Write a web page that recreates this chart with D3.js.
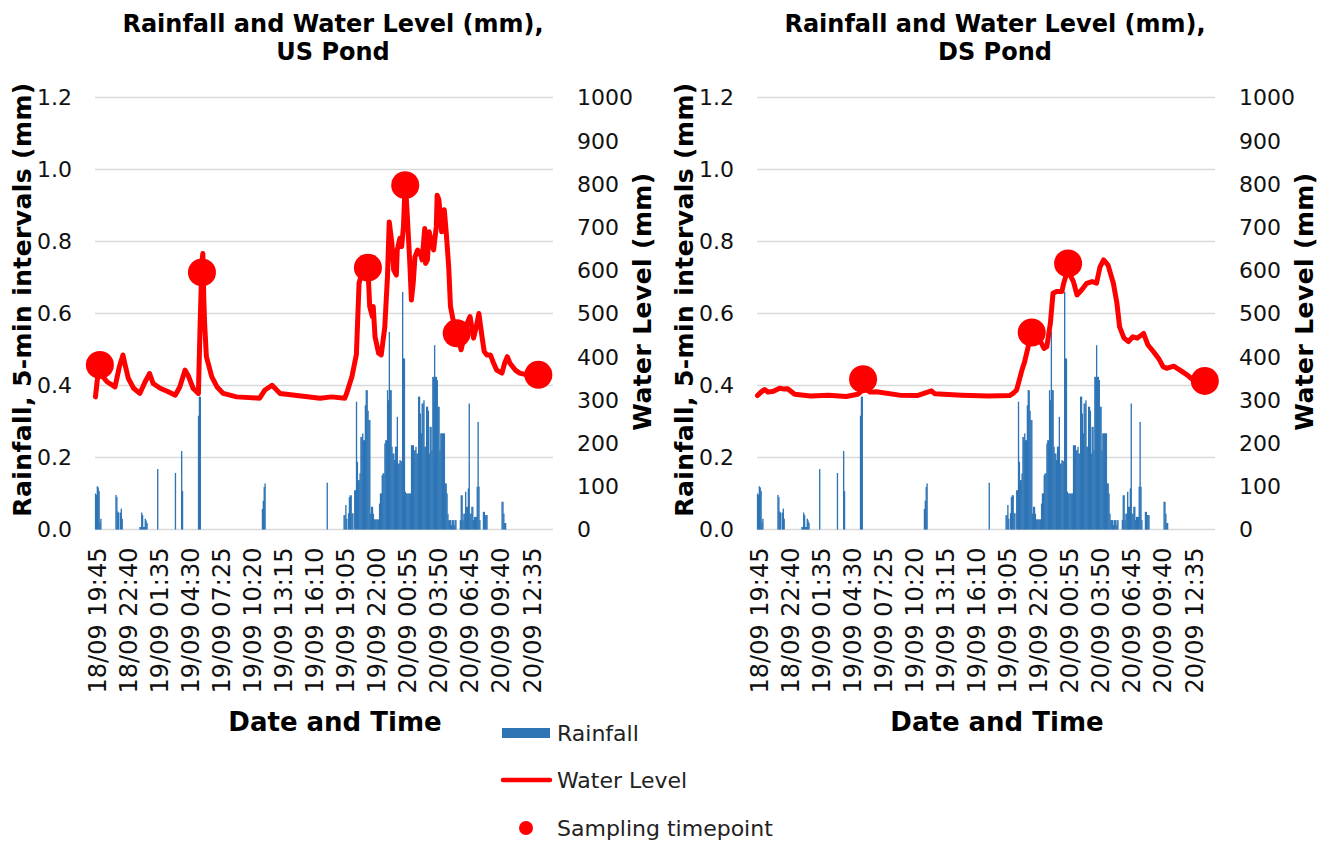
<!DOCTYPE html>
<html>
<head>
<meta charset="utf-8">
<script src="https://cdnjs.cloudflare.com/ajax/libs/d3/7.8.5/d3.min.js"></script>
<style>
    body { margin: 0; background: #fff; }
    svg { font-family: "DejaVu Sans", Verdana, sans-serif; }
    .tick-label { font-size: 22px; fill: #111; }
    .x-label { font-size: 24px; fill: #111; }
    .axis-title { font-size: 25px; font-weight: bold; fill: #000; letter-spacing: 0.4px; }
    .x-title { font-size: 26px; font-weight: bold; fill: #000; }
    .title { font-size: 24px; font-weight: bold; fill: #000; }
    .legend-label { font-size: 22px; fill: #222; }
</style>
</head>
<body>
<svg width="1330" height="841"></svg>
<script>
// 5-minute slots from 18/09 19:45, one label every 35 slots
const slotCount = 516;
const labelEvery = 35;
const tickLabels = ['18/09 19:45', '18/09 22:40', '19/09 01:35', '19/09 04:30', '19/09 07:25',
    '19/09 10:20', '19/09 13:15', '19/09 16:10', '19/09 19:05', '19/09 22:00',
    '20/09 00:55', '20/09 03:50', '20/09 06:45', '20/09 09:40', '20/09 12:35'];
const rainTicks = [0, 0.2, 0.4, 0.6, 0.8, 1.0, 1.2];
const levelTicks = [0, 100, 200, 300, 400, 500, 600, 700, 800, 900, 1000];

// rainfall (mm) per slot: [first slot, values...]; slots not listed had no rain
const rainfallRuns = [
    [0, [0.1, 0.096, 0.12, 0.117, 0.107, 0.02, 0.03]],
    [23, [0.096, 0.09, 0.05, 0.047, 0, 0.047, 0.058, 0.03]],
    [50, [0.007, 0.007, 0.047, 0.04, 0.007, 0.007, 0.03, 0.025, 0.018]],
    [70, [0.168]],
    [90, [0.157]],
    [97, [0.218, 0.107]],
    [116, [0.316, 0.369, 0.369]],
    [188, [0.057, 0.08, 0.118, 0.128]],
    [261, [0.13]],
    [280, [0.04, 0.04, 0.068, 0.03, 0, 0.045, 0.09, 0.095, 0.095, 0.045,
        0.045, 0, 0.109, 0.109, 0.355, 0.188, 0.137, 0.137, 0.156, 0.257,
        0.257, 0.267, 0.248, 0.248, 0.345, 0.387, 0.387, 0.33, 0.304, 0.304,
        0.044, 0.063, 0.063, 0.044, 0.028, 0.028, 0.028, 0.028, 0.028, 0.028,
        0.072, 0.1, 0.1, 0.151, 0.156, 0.156, 0.239, 0.248, 0.248, 0.387,
        0.359, 0.549, 0.387, 0.387, 0.23, 0.211, 0.211, 0.193, 0.23, 0.23,
        0.313, 0.183, 0.183, 0.193, 0.19, 0.19, 0.66, 0.475, 0.475, 0.105,
        0.1, 0.1, 0.1, 0.1, 0.1, 0.1, 0.234, 0.234, 0.234, 0.22,
        0.22, 0.23, 0.211, 0.211, 0.369, 0.369, 0.322, 0.267, 0.35, 0.35,
        0.359, 0.23, 0.23, 0.341, 0.341, 0.33, 0.211, 0.285, 0.285, 0.22,
        0.424, 0.424, 0.512, 0.424, 0.424, 0.415, 0.341, 0.341, 0.22, 0.267,
        0.267, 0.267, 0.267, 0.267, 0.128, 0.128, 0.1, 0.044, 0.026, 0.026,
        0.026, 0.012, 0.026, 0.026, 0.012, 0.026, 0.026, 0, 0, 0,
        0, 0.026, 0.095, 0.095, 0.026, 0.044, 0.044, 0.105, 0.063, 0.063,
        0.114, 0.35, 0.044, 0.044, 0.063, 0.063, 0.026, 0.035, 0.035, 0.035,
        0.119, 0.299, 0.119, 0.026, 0, 0, 0, 0.049, 0.049, 0.04,
        0.04, 0.04]],
    [458, [0.077, 0.077, 0.044, 0.018, 0.018]]
];

// water level (mm): [slot, level]
const levelUS = [[0, 307], [2, 345], [5, 378], [9, 352], [13, 342], [22, 330], [27, 377], [31, 404],
    [33, 385], [37, 350], [43, 327], [50, 315], [56, 342], [61, 361], [65, 338], [73, 327],
    [82, 319], [90, 311], [95, 330], [101, 369], [105, 354], [110, 327], [116, 315], [118, 480],
    [120, 620], [121, 639], [122, 540], [123, 477], [125, 400], [131, 354], [137, 330], [144, 315],
    [159, 307], [185, 304], [191, 323], [199, 334], [208, 315], [253, 304], [266, 307], [281, 304],
    [283, 315], [289, 354], [292, 385], [294, 405], [297, 570], [300, 593], [303, 600], [307, 606],
    [309, 516], [312, 493], [313, 516], [315, 446], [319, 408], [322, 404], [326, 469], [329, 585],
    [331, 712], [334, 662], [336, 601], [339, 589], [340, 647], [343, 674], [345, 655], [347, 700],
    [349, 805], [351, 740], [354, 624], [356, 531], [358, 570], [360, 631], [363, 647], [366, 639],
    [368, 624], [369, 647], [371, 697], [372, 616], [374, 624], [376, 689], [379, 659], [381, 647],
    [384, 701], [385, 774], [387, 763], [390, 689], [393, 740], [395, 693], [398, 608], [400, 516],
    [403, 485], [407, 454], [412, 416], [418, 473], [422, 493], [426, 443], [429, 469], [432, 500],
    [435, 454], [438, 412], [441, 404], [445, 404], [448, 388], [452, 369], [458, 362], [461, 385],
    [464, 400], [467, 385], [473, 369], [478, 362], [486, 358], [499, 358], [505, 350]];

const levelDS = [[0, 310], [4, 318], [8, 324], [12, 318], [18, 320], [25, 327], [30, 325], [34, 326],
    [42, 313], [60, 309], [80, 311], [100, 308], [113, 313], [116, 318], [119, 345], [122, 325],
    [127, 318], [134, 319], [160, 311], [180, 310], [196, 321], [200, 314], [230, 311], [260, 309],
    [284, 310], [288, 315], [292, 323], [295, 346], [298, 369], [301, 388], [305, 423], [309, 456],
    [313, 450], [318, 439], [323, 419], [326, 423], [330, 477], [333, 547], [337, 551], [343, 551],
    [345, 570], [348, 590], [350, 612], [352, 590], [356, 574], [360, 543], [365, 554], [371, 570],
    [377, 574], [382, 570], [386, 608], [390, 624], [395, 612], [401, 570], [405, 524], [408, 469],
    [413, 443], [418, 435], [423, 446], [428, 443], [435, 454], [440, 427], [446, 412], [452, 396],
    [457, 377], [461, 373], [469, 378], [476, 369], [484, 358], [491, 346], [504, 344]];

// sampling timepoints: [slot, level]
const samplesUS = [[5, 381], [120, 595], [307, 606], [349, 797], [407, 454], [499, 358]];
const samplesDS = [[119, 348], [309, 456], [350, 616], [504, 344]];

const blue = '#2e75b6';
const red = '#ff0000';

const rainfall = new Array(slotCount).fill(0);
rainfallRuns.forEach(([start, values]) => values.forEach((v, i) => { rainfall[start + i] = v; }));

const svg = d3.select('svg');
const plot = { top: 97.5, width: 458, height: 432 };

const xScale = d3.scaleBand().domain(d3.range(slotCount)).range([0, plot.width]);
const yRain = d3.scaleLinear().domain([0, 1.2]).range([plot.height, 0]);
const yLevel = d3.scaleLinear().domain([0, 1000]).range([plot.height, 0]);
const bw = xScale.bandwidth();

const drawPanel = (left, title, level, samples) => {
    const g = svg.append('g').attr('transform', `translate(${left},${plot.top})`);

    // gridlines
    g.selectAll('.grid').data(rainTicks).enter().append('line')
        .attr('x1', 0).attr('x2', plot.width)
        .attr('y1', d => yRain(d)).attr('y2', d => yRain(d))
        .attr('stroke', '#d9d9d9').attr('stroke-width', 1.5);

    // left axis labels
    g.selectAll('.yl').data(rainTicks).enter().append('text')
        .attr('class', 'tick-label')
        .attr('x', -23).attr('y', d => yRain(d)).attr('dy', '0.36em')
        .attr('text-anchor', 'end')
        .text(d => d3.format('.1f')(d));

    // right axis labels
    g.selectAll('.yr').data(levelTicks).enter().append('text')
        .attr('class', 'tick-label')
        .attr('x', plot.width + 24).attr('y', d => yLevel(d)).attr('dy', '0.36em')
        .attr('text-anchor', 'start')
        .text(d => d);

    // x labels
    g.selectAll('.xl').data(tickLabels).enter().append('text')
        .attr('class', 'x-label')
        .attr('transform', (d, i) => `translate(${xScale(i * labelEvery) + bw / 2 + 1.5},${plot.height + 18}) rotate(-90)`)
        .attr('dy', '0.36em')
        .attr('text-anchor', 'end')
        .text(d => d);

    // rainfall bars
    const bars = rainfall.map((v, i) => ({ i, v })).filter(d => d.v > 0);
    g.selectAll('.bar').data(bars).enter().append('rect')
        .attr('x', d => xScale(d.i) - 0.1)
        .attr('width', bw + 0.45)
        .attr('y', d => yRain(d.v))
        .attr('height', d => plot.height - yRain(d.v))
        .attr('fill', blue);

    // water level
    const line = d3.line()
        .x(d => xScale(d[0]) + bw / 2)
        .y(d => yLevel(d[1]));
    g.append('path').datum(level)
        .attr('d', line)
        .attr('fill', 'none')
        .attr('stroke', red)
        .attr('stroke-width', 5)
        .attr('stroke-linejoin', 'round')
        .attr('stroke-linecap', 'round');

    g.selectAll('.sample').data(samples).enter().append('circle')
        .attr('cx', d => xScale(d[0]) + bw / 2)
        .attr('cy', d => yLevel(d[1]))
        .attr('r', 14)
        .attr('fill', red);

    // titles
    const t = g.append('text').attr('class', 'title').attr('text-anchor', 'middle');
    t.append('tspan').attr('x', 238).attr('y', 32 - plot.top).text('Rainfall and Water Level (mm),');
    t.append('tspan').attr('x', 238).attr('y', 60 - plot.top).text(title);

    g.append('text').attr('class', 'axis-title')
        .attr('transform', `translate(-73,${202}) rotate(-90)`)
        .attr('dy', '0.36em')
        .attr('text-anchor', 'middle')
        .text('Rainfall, 5-min intervals (mm)');

    g.append('text').attr('class', 'axis-title')
        .attr('transform', `translate(${plot.width + 89},${204}) rotate(-90)`)
        .attr('dy', '0.36em')
        .attr('text-anchor', 'middle')
        .text('Water Level (mm)');

    g.append('text').attr('class', 'x-title')
        .attr('x', 240).attr('y', 731 - plot.top)
        .attr('text-anchor', 'middle')
        .text('Date and Time');
};

drawPanel(95, 'US Pond', levelUS, samplesUS);
drawPanel(757, 'DS Pond', levelDS, samplesDS);

// legend
const legend = svg.append('g');
legend.append('rect').attr('x', 502).attr('y', 728).attr('width', 48).attr('height', 10).attr('fill', blue);
legend.append('line').attr('x1', 503).attr('x2', 550).attr('y1', 780).attr('y2', 780)
    .attr('stroke', red).attr('stroke-width', 4.5).attr('stroke-linecap', 'round');
legend.append('circle').attr('cx', 526).attr('cy', 828).attr('r', 7).attr('fill', red);
legend.selectAll('.legend-label').data([['Rainfall', 733], ['Water Level', 780], ['Sampling timepoint', 828]])
    .enter().append('text')
    .attr('class', 'legend-label')
    .attr('x', 557).attr('y', d => d[1]).attr('dy', '0.36em')
    .text(d => d[0]);
</script>
</body>
</html>
